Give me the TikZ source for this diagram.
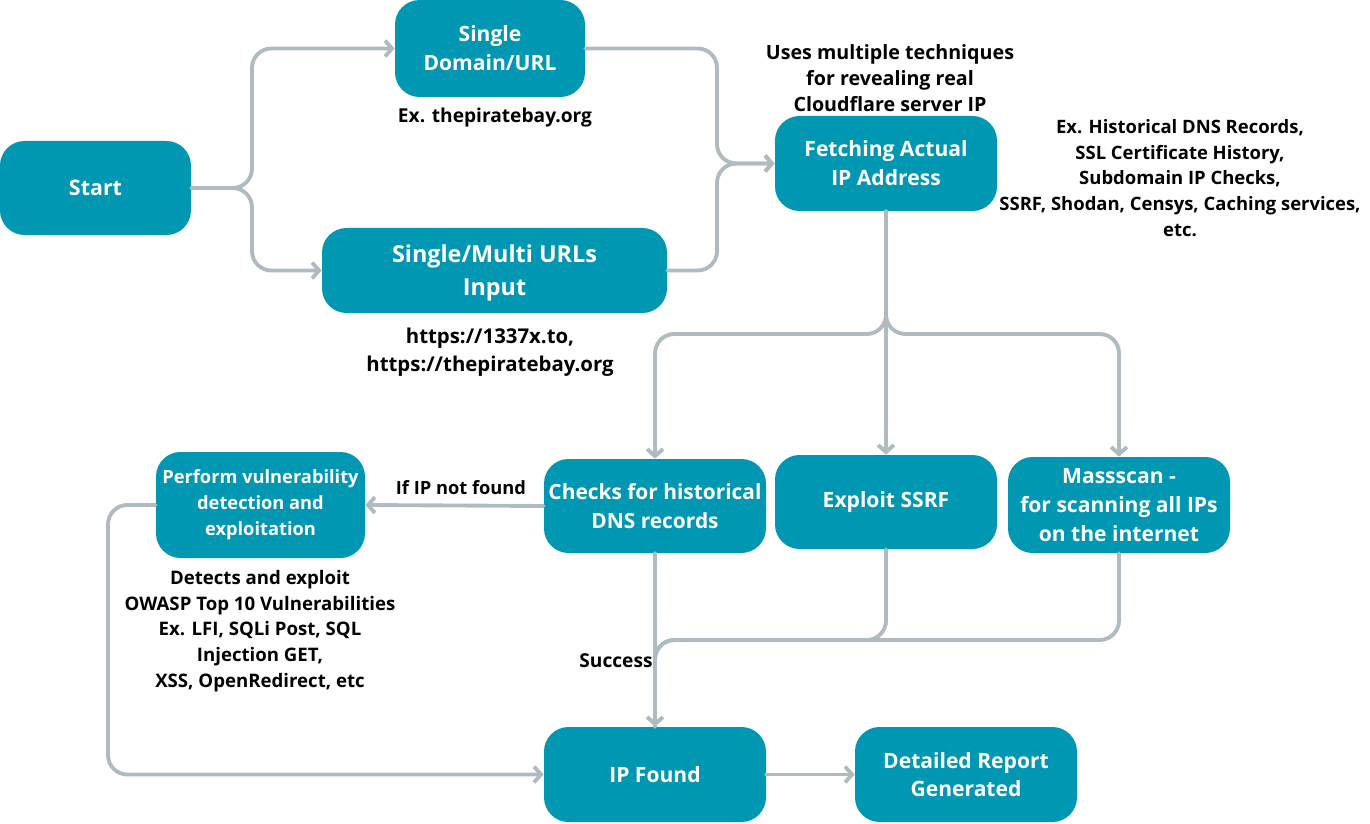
\documentclass[tikz,border=0pt]{standalone}
\usepackage{fontspec}
\setmainfont{Open Sans}
\usetikzlibrary{arrows.meta}
\definecolor{boxteal}{HTML}{0097B2}
\definecolor{linegray}{HTML}{B0BAC1}
\begin{document}
\begin{tikzpicture}[x=0.02cm,y=-0.02cm,
  box/.style 2 args={fill=boxteal, rounded corners=14pt, minimum width=#1*0.02cm, minimum height=#2*0.02cm, inner sep=0pt, align=center, text=white, font=\bfseries\fontsize{12}{16.4}\selectfont},
  conn/.style={draw=linegray, line width=2.2pt, rounded corners=11pt, line cap=round},
  arr/.style={conn, -{Straight Barb[length=4pt,width=9pt]}},
  lbl/.style={align=center, font=\bfseries\fontsize{11}{14.8}\selectfont, inner sep=0pt},
  small/.style={align=center, font=\bfseries\fontsize{10.5}{14.6}\selectfont, inner sep=0pt}]
\useasboundingbox (0,0) rectangle (1370,824);

% boxes
\node[box={191}{94}, font=\bfseries\fontsize{12.2}{16.4}\selectfont, text depth=-1pt] (start) at (95.5,188) {Start};
\node[box={190}{97}] (sd) at (490,48.5) {Single\\Domain/URL};
\node[box={345}{85}, font=\bfseries\fontsize{13.3}{18.7}\selectfont, text depth=-1.5pt] (multi) at (494.5,270.5) {Single/Multi URLs\\Input};
\node[box={222}{95}, font=\bfseries\fontsize{12}{16.4}\selectfont] (fetch) at (886,163.5) {Fetching Actual\\IP Address};
\node[box={222}{94}, font=\bfseries\fontsize{11.9}{16.4}\selectfont] (dns) at (655,506) {Checks for historical\\DNS records};
\node[box={222}{94}, font=\bfseries\fontsize{12}{16.4}\selectfont] (ssrf) at (886,502) {Exploit SSRF};
\node[box={222}{96}, font=\bfseries\fontsize{12}{16.4}\selectfont] (mass) at (1119,505) {Massscan -\\for scanning all IPs\\on the internet};
\node[box={209}{106}, font=\bfseries\fontsize{10.4}{14.7}\selectfont] (vuln) at (260.5,505) {Perform vulnerability\\detection and\\exploitation};
\node[box={222}{95}, font=\bfseries\fontsize{12}{16.4}\selectfont] (ipf) at (655,774.5) {IP Found};
\node[box={222}{95}, font=\bfseries\fontsize{12}{16.4}\selectfont] (rep) at (966,774.5) {Detailed Report\\Generated};

% labels
\node[lbl, font=\bfseries\fontsize{10.9}{14.8}\selectfont] (l1) at (495,118) {Ex. thepiratebay.org};
\node[lbl, font=\bfseries\fontsize{11.2}{15}\selectfont] (l2) at (890,78) {Uses multiple techniques\\for revealing real\\Cloudflare server IP};
\node[small] (l3) at (1180,178) {Ex. Historical DNS Records,\\SSL Certificate History,\\Subdomain IP Checks,\\SSRF, Shodan, Censys, Caching services,\\etc.};
\node[lbl, font=\bfseries\fontsize{11.6}{15.9}\selectfont] (l4) at (490,352) {https://1337x.to,\\https://thepiratebay.org};
\node[lbl, font=\bfseries\fontsize{10.4}{14.8}\selectfont] (l5) at (461,488) {If IP not found};
\node[small, font=\bfseries\fontsize{10.6}{14.7}\selectfont] (l6) at (260,631) {Detects and exploit\\OWASP Top 10 Vulnerabilities\\Ex. LFI, SQLi Post, SQL\\Injection GET,\\XSS, OpenRedirect, etc};
\node[lbl, font=\bfseries\fontsize{10.9}{14.8}\selectfont] (l7) at (616,661) {Success};

% junctions
\coordinate (j1) at (252,188);
\coordinate (j2) at (717,163.5);
\coordinate (j3) at (886,334);
\coordinate (j4) at (108,505);
\coordinate (j5) at (655,640);

% connectors
\draw[arr] (start.east) -- (j1) |- (sd.west);
\draw[arr] (start.east) -- (j1) |- (multi.west);
\draw[arr] (sd.east) -| (j2) -- (fetch.west);
\draw[arr] (multi.east) -| (j2) -- (fetch.west);
\draw[arr] (fetch.south) -- (j3) -| (dns.north);
\draw[arr] (fetch.south) -- (ssrf.north);
\draw[arr] (fetch.south) -- (j3) -| (mass.north);
\draw[arr] (dns.west) -- (vuln.east);
\draw[arr] (vuln.west) -- (j4) |- (ipf.west);
\draw[conn] (ssrf.south) |- (j5) -- (ipf.north);
\draw[conn] (mass.south) |- (j5) -- (ipf.north);
\draw[arr] (dns.south) -- (ipf.north);
\draw[arr] (ipf.east) -- (rep.west);
\end{tikzpicture}
\end{document}
